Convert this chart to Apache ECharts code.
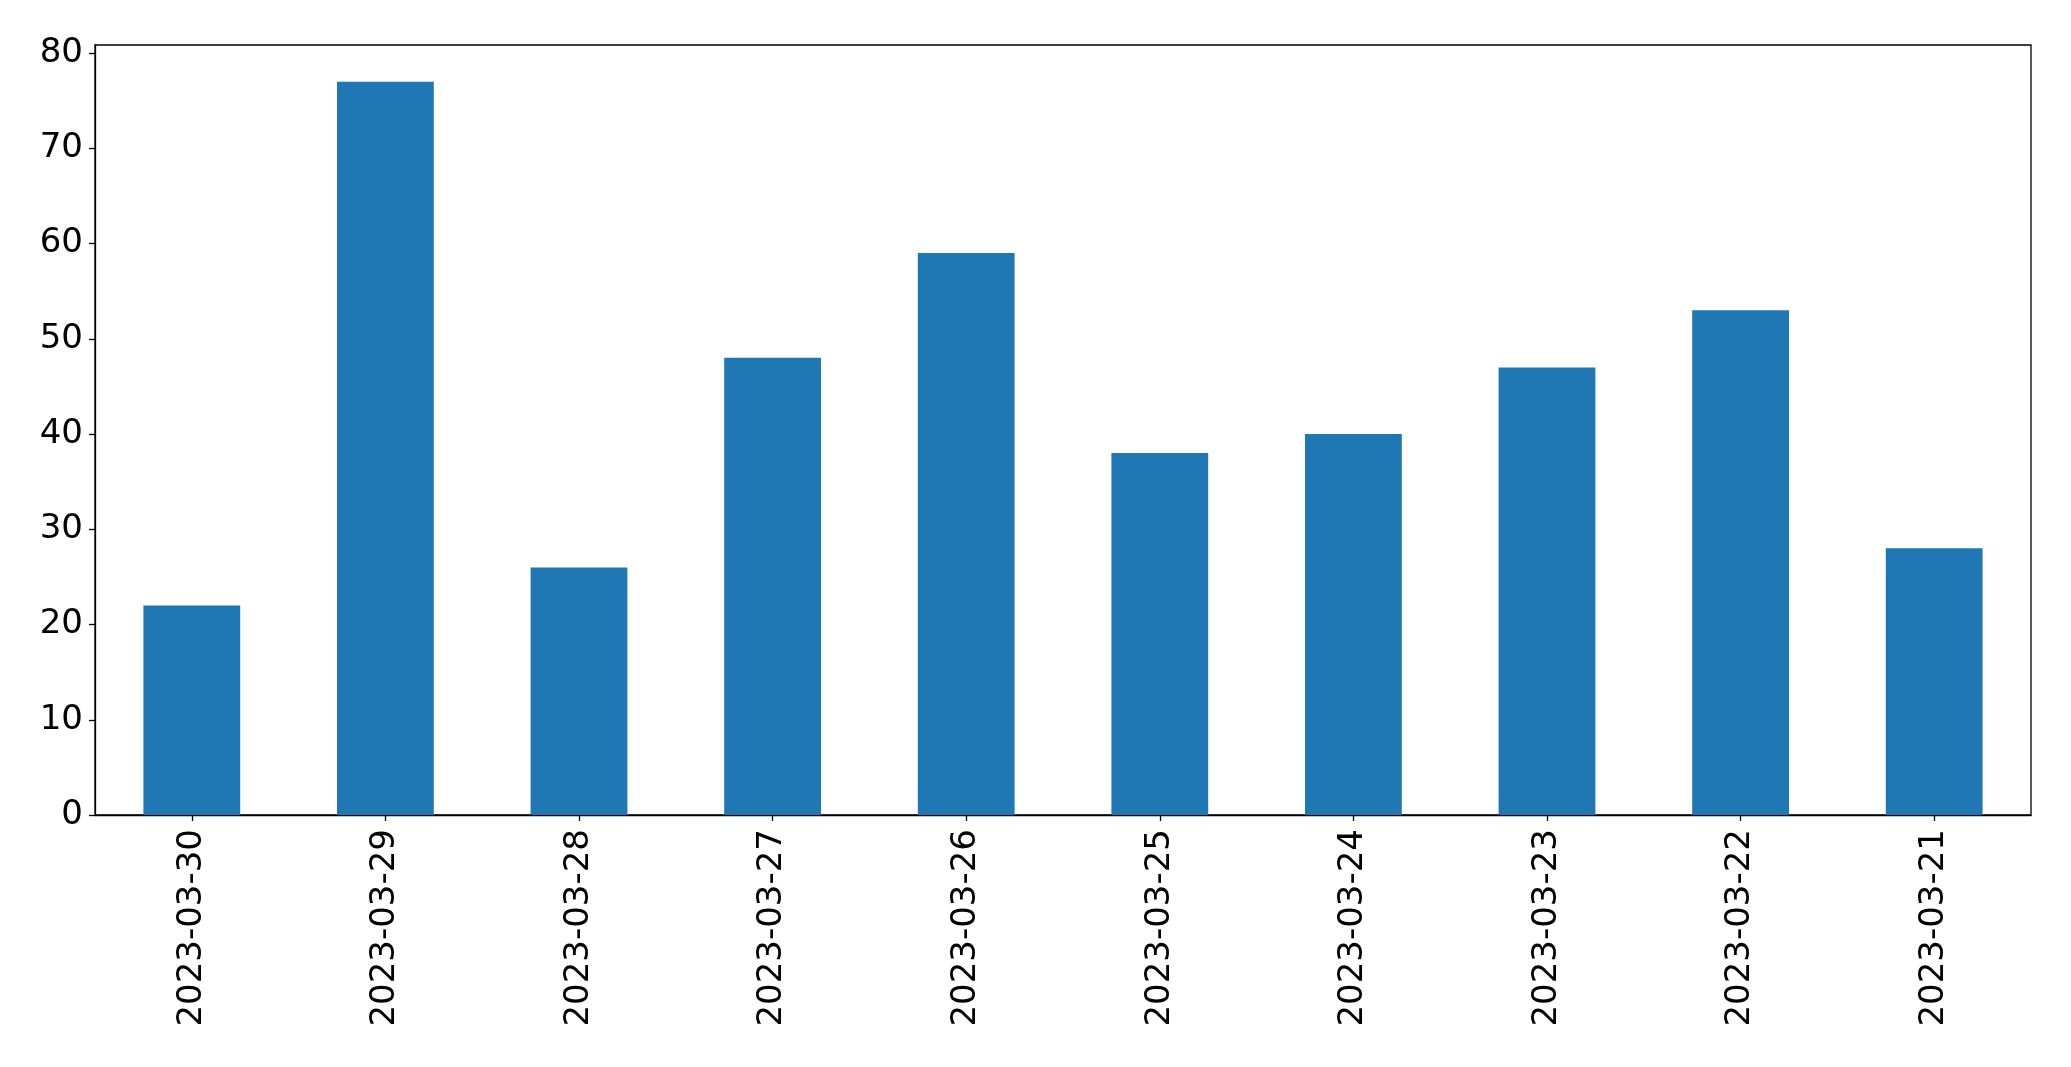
<!DOCTYPE html>
<html>
<head>
<meta charset="utf-8">
<script src="https://cdn.jsdelivr.net/npm/echarts@6/dist/echarts.min.js"></script>
<style>html,body{margin:0;padding:0;background:#fff;}#c{width:2071px;height:1067px;}</style>
</head>
<body>
<div id="c"></div>
<script>
const categories = ["2023-03-30","2023-03-29","2023-03-28","2023-03-27","2023-03-26","2023-03-25","2023-03-24","2023-03-23","2023-03-22","2023-03-21"];
const values = [22, 77, 26, 48, 59, 38, 40, 47, 53, 28];
const yTicks = [0, 10, 20, 30, 40, 50, 60, 70, 80];

const chart = echarts.init(document.getElementById('c'), null, {renderer: 'canvas'});
const font = {fontFamily: 'DejaVu Sans', fontSize: 34, color: '#000'};
chart.setOption({
  animation: false,
  backgroundColor: '#fff',
  grid: {left: 95, right: 40, top: 45, bottom: 252, show: true, borderColor: '#000', borderWidth: 1.3, backgroundColor: 'transparent'},
  xAxis: {
    type: 'category',
    data: categories,
    boundaryGap: true,
    axisLine: {show: true, lineStyle: {color: '#000', width: 1.3}},
    axisTick: {show: true, alignWithLabel: true, length: 6, lineStyle: {color: '#000', width: 1.3}},
    axisLabel: Object.assign({rotate: 90, margin: 14, interval: 0}, font),
    splitLine: {show: false}
  },
  yAxis: {
    type: 'value',
    min: 0,
    max: 80.85,
    interval: 10,
    axisLine: {show: true, lineStyle: {color: '#000', width: 1.3}},
    axisTick: {show: true, length: 6, lineStyle: {color: '#000', width: 1.3}, customValues: yTicks},
    axisLabel: Object.assign({margin: 12, customValues: yTicks, formatter: v => String(v)}, font),
    splitLine: {show: false}
  },
  series: [{
    type: 'bar',
    data: values,
    barWidth: '50%',
    itemStyle: {color: '#1f77b4'}
  }]
});
</script>
</body>
</html>
